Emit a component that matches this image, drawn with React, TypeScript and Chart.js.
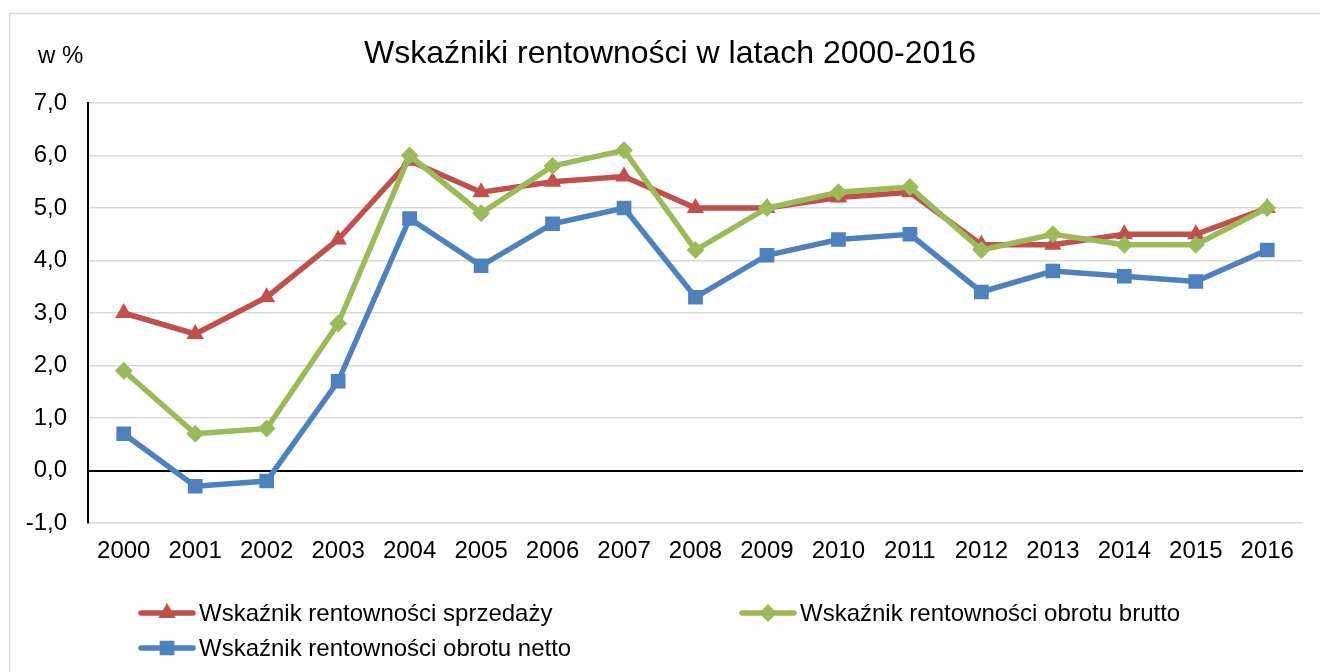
import React, { useEffect, useRef } from 'react';
import { Chart, registerables } from 'chart.js';

Chart.register(...registerables);

const FONT = "'Liberation Sans', Arial, sans-serif";

const years = ['2000', '2001', '2002', '2003', '2004', '2005', '2006', '2007', '2008', '2009', '2010', '2011', '2012', '2013', '2014', '2015', '2016'];
const sprzedazy = [3.0, 2.6, 3.3, 4.4, 5.9, 5.3, 5.5, 5.6, 5.0, 5.0, 5.2, 5.3, 4.3, 4.3, 4.5, 4.5, 5.0];
const brutto = [1.9, 0.7, 0.8, 2.8, 6.0, 4.9, 5.8, 6.1, 4.2, 5.0, 5.3, 5.4, 4.2, 4.5, 4.3, 4.3, 5.0];
const netto = [0.7, -0.3, -0.2, 1.7, 4.8, 3.9, 4.7, 5.0, 3.3, 4.1, 4.4, 4.5, 3.4, 3.8, 3.7, 3.6, 4.2];

const seriesNames = ['Wskaźnik rentowności sprzedaży', 'Wskaźnik rentowności obrotu brutto', 'Wskaźnik rentowności obrotu netto'];
const seriesColors = ['#C0504D', '#9BBB59', '#4F81BD'];
const seriesStyles = ['triangle', 'rectRot', 'rect'];
const seriesRadius = [8, 7.5, 9];
const seriesOrder = [2, 1, 0];

const titleText = 'Wskaźniki rentowności w latach 2000-2016';
const unitText = 'w %';
const yMin = -1;
const yMax = 7;
const yStep = 1;

function drawMarker(ctx: CanvasRenderingContext2D, style: string, x: number, y: number, r: number, color: string) {
  ctx.save();
  ctx.fillStyle = color;
  ctx.strokeStyle = color;
  ctx.lineWidth = 2;
  ctx.beginPath();
  if (style === 'triangle') {
    for (let k = 0; k < 3; k++) {
      const a = (k * 2 * Math.PI) / 3;
      const px = x + Math.sin(a) * r;
      const py = y - Math.cos(a) * r;
      if (k === 0) ctx.moveTo(px, py);
      else ctx.lineTo(px, py);
    }
  } else if (style === 'rectRot') {
    ctx.moveTo(x - r, y);
    ctx.lineTo(x, y - r);
    ctx.lineTo(x + r, y);
    ctx.lineTo(x, y + r);
  } else {
    const s = r * Math.SQRT1_2;
    ctx.rect(x - s, y - s, 2 * s, 2 * s);
  }
  ctx.closePath();
  ctx.fill();
  ctx.stroke();
  ctx.restore();
}

const decorPlugin = {
  id: 'decor',
  beforeDraw(chart: any) {
    const ctx = chart.ctx as CanvasRenderingContext2D;
    ctx.save();
    ctx.fillStyle = '#ffffff';
    ctx.fillRect(0, 0, chart.width, chart.height);
    ctx.strokeStyle = '#d9d9d9';
    ctx.lineWidth = 1.5;
    ctx.strokeRect(9.5, 13.5, 1400, 700);
    ctx.restore();
  },
  afterDraw(chart: any) {
    const ctx = chart.ctx as CanvasRenderingContext2D;
    ctx.save();
    ctx.fillStyle = '#000000';
    ctx.textBaseline = 'alphabetic';
    ctx.textAlign = 'center';
    ctx.font = `32px ${FONT}`;
    ctx.fillText(titleText, 670, 63);
    ctx.textAlign = 'left';
    ctx.font = `24px ${FONT}`;
    ctx.fillText(unitText, 38, 63);

    const positions = [
      { x: 141, y: 613 },
      { x: 742, y: 613 },
      { x: 141, y: 648 },
    ];
    positions.forEach((p, i) => {
      ctx.save();
      ctx.strokeStyle = seriesColors[i];
      ctx.lineWidth = 5.5;
      ctx.lineCap = 'round';
      ctx.beginPath();
      ctx.moveTo(p.x, p.y);
      ctx.lineTo(p.x + 52, p.y);
      ctx.stroke();
      ctx.restore();
      drawMarker(ctx, seriesStyles[i], p.x + 26, p.y, seriesRadius[i], seriesColors[i]);
      ctx.fillStyle = '#000000';
      ctx.font = `24px ${FONT}`;
      ctx.textBaseline = 'alphabetic';
      ctx.textAlign = 'left';
      ctx.fillText(seriesNames[i], p.x + 58, p.y + 8);
    });
    ctx.restore();
  },
};

export default function App() {
  const canvasRef = useRef<HTMLCanvasElement | null>(null);

  useEffect(() => {
    document.body.style.margin = '0';
    const canvas = canvasRef.current;
    if (!canvas) return;
    const seriesData = [sprzedazy, brutto, netto];
    const chart = new Chart(canvas, {
      type: 'line',
      data: {
        labels: years,
        datasets: seriesData.map((d, i) => ({
          label: seriesNames[i],
          data: d,
          borderColor: seriesColors[i],
          backgroundColor: seriesColors[i],
          borderWidth: 5.5,
          pointStyle: seriesStyles[i] as any,
          pointRadius: seriesRadius[i],
          pointBorderWidth: 2,
          pointBackgroundColor: seriesColors[i],
          pointBorderColor: seriesColors[i],
          tension: 0,
          order: seriesOrder[i],
          fill: false,
        })),
      },
      options: {
        animation: false,
        responsive: false,
        layout: { padding: { top: 103, left: 0, right: 17, bottom: 89 } },
        plugins: {
          legend: { display: false },
          title: { display: false },
          tooltip: { enabled: false },
        },
        scales: {
          x: {
            offset: true,
            grid: { display: false, drawTicks: false },
            border: { display: false },
            ticks: {
              color: '#000000',
              font: { family: FONT, size: 24 },
              padding: 14,
              maxRotation: 0,
              autoSkip: false,
            },
            afterFit: (scale: any) => {
              scale.height = 60;
            },
          },
          y: {
            min: yMin,
            max: yMax,
            grid: {
              drawTicks: false,
              color: (c: any) => (c.tick && c.tick.value === 0 ? '#000000' : '#d9d9d9'),
              lineWidth: (c: any) => (c.tick && c.tick.value === 0 ? 2 : 1.5),
            },
            border: { display: true, color: '#000000', width: 2 },
            ticks: {
              stepSize: yStep,
              color: '#000000',
              font: { family: FONT, size: 24 },
              padding: 21,
              callback: (v: any) => Number(v).toFixed(1).replace('.', ','),
            },
            afterFit: (scale: any) => {
              scale.width = 88;
            },
          },
        },
      },
      plugins: [decorPlugin],
    });
    return () => chart.destroy();
  }, []);

  return (
    <canvas
      ref={canvasRef}
      width={1320}
      height={672}
      style={{ display: 'block', position: 'absolute', left: 0, top: 0, width: 1320, height: 672 }}
    />
  );
}
